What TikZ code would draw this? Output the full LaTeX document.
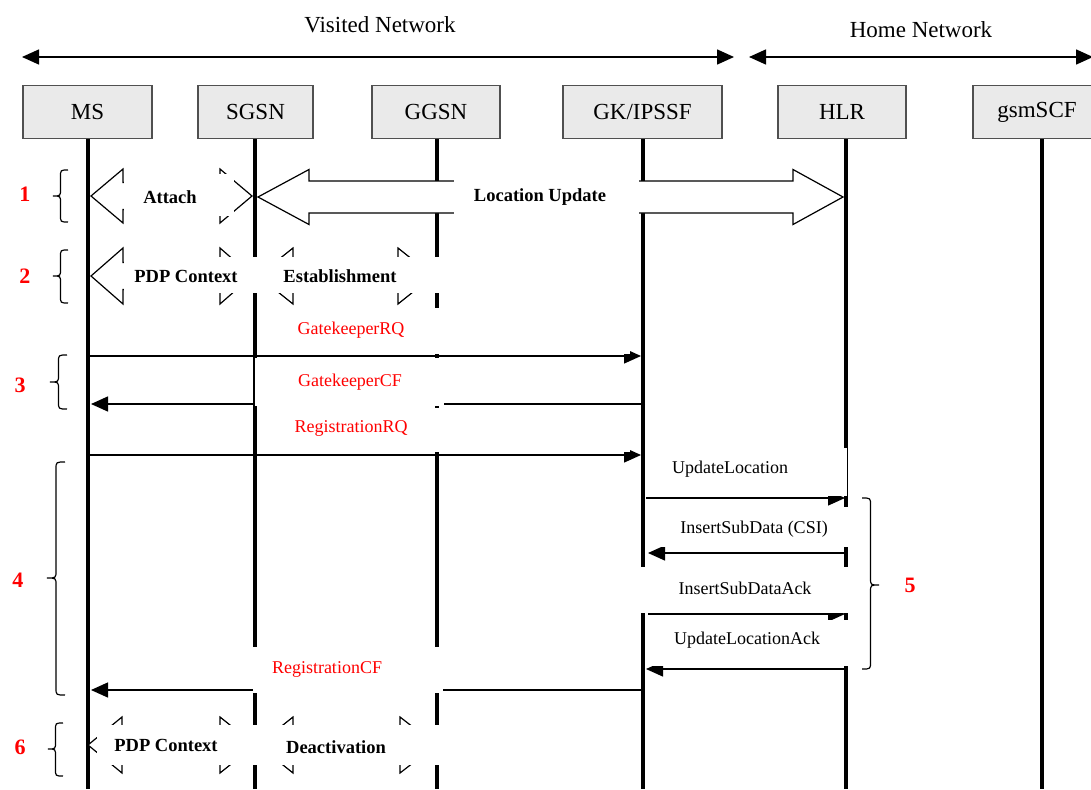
\documentclass[tikz,border=0pt]{standalone}
\usepackage{fontspec}
\setmainfont{Liberation Serif}
\usetikzlibrary{arrows.meta,calc}
\definecolor{boxfill}{HTML}{EAEAEA}
\definecolor{boxdraw}{HTML}{505050}
% double block arrow: #1 left tip x, #2 left back x, #3 right back x, #4 right tip x, #5 centre y, #6 head half height, #7 body half height
\newcommand{\DArrow}[7]{\draw[blk] (#1,#5) -- (#2,{#5-#6}) -- (#2,{#5-#7}) -- (#3,{#5-#7}) -- (#3,{#5-#6}) -- (#4,#5) -- (#3,{#5+#6}) -- (#3,{#5+#7}) -- (#2,{#5+#7}) -- (#2,{#5+#6}) -- cycle;}
% curly brace: #1 tip x, #2 end x, #3 top y, #4 mid y, #5 bottom y
\newcommand{\CurlyB}[5]{\draw[brc] (#2,#3) .. controls ({(#1+#2)/2},#3) .. ({(#1+#2)/2},{#3+7}) -- ({(#1+#2)/2},{#4-7}) .. controls ({(#1+#2)/2},#4) .. (#1,#4) .. controls ({(#1+#2)/2},#4) .. ({(#1+#2)/2},{#4+7}) -- ({(#1+#2)/2},{#5-7}) .. controls ({(#1+#2)/2},#5) .. (#2,#5);}
\begin{document}
\begin{tikzpicture}[x=1pt,y=-1pt,
  actor/.style={draw=boxdraw,fill=boxfill,line width=1.2pt,minimum height=53pt,inner sep=0pt,font=\fontsize{23}{26}\selectfont},
  life/.style={line width=4pt},
  blk/.style={draw=black,fill=white,line width=1.2pt,line join=miter},
  msg/.style={line width=1.4pt,-{Triangle[length=17pt,width=15pt]}},
  netarr/.style={line width=1.5pt,{Triangle[length=17pt,width=15pt]}-{Triangle[length=17pt,width=15pt]}},
  cover/.style={fill=white},
  net/.style={font=\fontsize{23}{26}\selectfont},
  rl/.style={text=red,font=\fontsize{18}{20}\selectfont},
  bl/.style={font=\fontsize{18}{20}\selectfont},
  bb/.style={font=\fontsize{18.5}{20}\selectfont\bfseries},
  num/.style={text=red,font=\fontsize{22}{24}\selectfont\bfseries},
  brc/.style={line width=1.2pt}]

\useasboundingbox (0,0) rectangle (1091,789);
\fill[white] (0,0) rectangle (1091,789);

% network ranges
\coordinate (v1) at (22,57);
\coordinate (v2) at (734,57);
\coordinate (h1) at (749,57);
\coordinate (h2) at (1093,57);
\draw[netarr] (v1) -- (v2);
\draw[netarr] (h1) -- (h2);
\node[net] (vn) at (380,25) {Visited Network};
\node[net] (hn) at (921,30) {Home Network};

% actors
\node[actor,minimum width=129pt] (MS) at (87.5,112) {MS};
\node[actor,minimum width=115pt] (SGSN) at (255.5,112) {SGSN};
\node[actor,minimum width=128pt] (GGSN) at (436,112) {GGSN};
\node[actor,minimum width=159pt] (GK) at (642.5,112) {GK/IPSSF};
\node[actor,minimum width=128pt] (HLR) at (842,112) {HLR};
\node[actor,minimum width=128pt] (SCF) at (1037,112) {gsmSCF};

% lifelines
\coordinate (MSe) at (88,789);
\coordinate (SGe) at (255,789);
\coordinate (GGe) at (437,789);
\coordinate (GKe) at (643,789);
\coordinate (HLe) at (846,789);
\coordinate (SCe) at (1042,789);
\draw[life] (MSe |- MS.south) -- (MSe);
\draw[life,line width=3.3pt] (SGe |- SGSN.south) -- (SGe);
\draw[life] (GGe |- GGSN.south) -- (GGe);
\draw[life] (GKe |- GK.south) -- (GKe);
\draw[life] (HLe |- HLR.south) -- (HLe);
\draw[life] (SCe |- SCF.south) -- (SCe);

% block arrows
\DArrow{91}{123}{220}{252}{196}{27}{13.5}
\DArrow{258}{309}{793}{843}{197}{27.5}{16}
\DArrow{91}{123}{220}{252}{276}{28}{13.5}
\DArrow{258}{293}{398}{433}{276}{28}{13.5}
\DArrow{88}{122}{220}{255}{745}{28}{13.5}
\DArrow{258}{293}{400}{436}{745}{28}{13.5}

% messages
\coordinate (gkrqS) at (90,356);   \coordinate (gkrqE) at (641,356);
\coordinate (gkcfS) at (645,404);  \coordinate (gkcfE) at (91,404);
\coordinate (rgrqS) at (90,455);   \coordinate (rgrqE) at (641,455);
\coordinate (ulS) at (646,498);    \coordinate (ulE) at (845,498);
\coordinate (isdS) at (845,553);   \coordinate (isdE) at (648,553);
\coordinate (isaS) at (648,614);   \coordinate (isaE) at (845,614);
\coordinate (ulaS) at (845,669);   \coordinate (ulaE) at (646,669);
\coordinate (rgcfS) at (641,690);  \coordinate (rgcfE) at (91,690);
\draw[msg] (gkrqS) -- (gkrqE);
\draw[msg] (gkcfS) -- (gkcfE);
\draw[msg] (rgrqS) -- (rgrqE);
\draw[msg] (ulS) -- (ulE);
\draw[msg] (isdS) -- (isdE);
\draw[msg] (isaS) -- (isaE);
\draw[msg] (ulaS) -- (ulaE);
\draw[msg] (rgcfS) -- (rgcfE);

% white label boxes
\fill[cover] (124,174) rectangle (234,216);
\fill[cover] (454,178) rectangle (639,216);
\fill[cover] (124,257) rectangle (440,293);
\fill[cover] (258,308) rectangle (630,354);
\fill[cover] (254.5,358) rectangle (444,406);
\fill[cover] (258,408) rectangle (630,452);
\fill[cover] (650,448) rectangle (847,496);
\fill[cover] (650,507) rectangle (850,547);
\fill[cover] (630,567) rectangle (855,613);
\fill[cover] (650,620) rectangle (850,666);
\fill[cover] (253,647) rectangle (443,693);
\fill[cover] (97,725) rectangle (445,765);

% labels
\node[bb] (tAttach) at (170,197) {Attach};
\node[bb] (tLocUpd) at (540,197) {Location Update};
\node[bb] (tPdp1) at (186,276) {PDP Context};
\node[bb] (tEst) at (340,276) {Establishment};
\node[bb] (tPdp2) at (166,745) {PDP Context};
\node[bb] (tDeact) at (336,747) {Deactivation};
\node[rl] (tGkrq) at (351,330) {GatekeeperRQ};
\node[rl] (tGkcf) at (350,382) {GatekeeperCF};
\node[rl] (tRgrq) at (351,428) {RegistrationRQ};
\node[rl] (tRgcf) at (327,669) {RegistrationCF};
\node[bl] (tUl) at (730,469) {UpdateLocation};
\node[bl] (tIsd) at (754,529) {InsertSubData (CSI)};
\node[bl] (tIsa) at (745,588) {InsertSubDataAck};
\node[bl] (tUla) at (747,640) {UpdateLocationAck};

% braces and step numbers
\CurlyB{53}{68}{170}{196}{222}
\CurlyB{53}{68}{250}{276}{303}
\CurlyB{50}{67}{355}{382}{409}
\CurlyB{47}{65}{462}{578}{695}
\CurlyB{879}{862}{498}{585}{669}
\CurlyB{48}{63}{723}{749}{776}
\node[num] (n1) at (25,194) {1};
\node[num] (n2) at (25,276) {2};
\node[num] (n3) at (20,385) {3};
\node[num] (n4) at (18,580) {4};
\node[num] (n5) at (910,585) {5};
\node[num] (n6) at (20,747) {6};
\end{tikzpicture}
\end{document}
